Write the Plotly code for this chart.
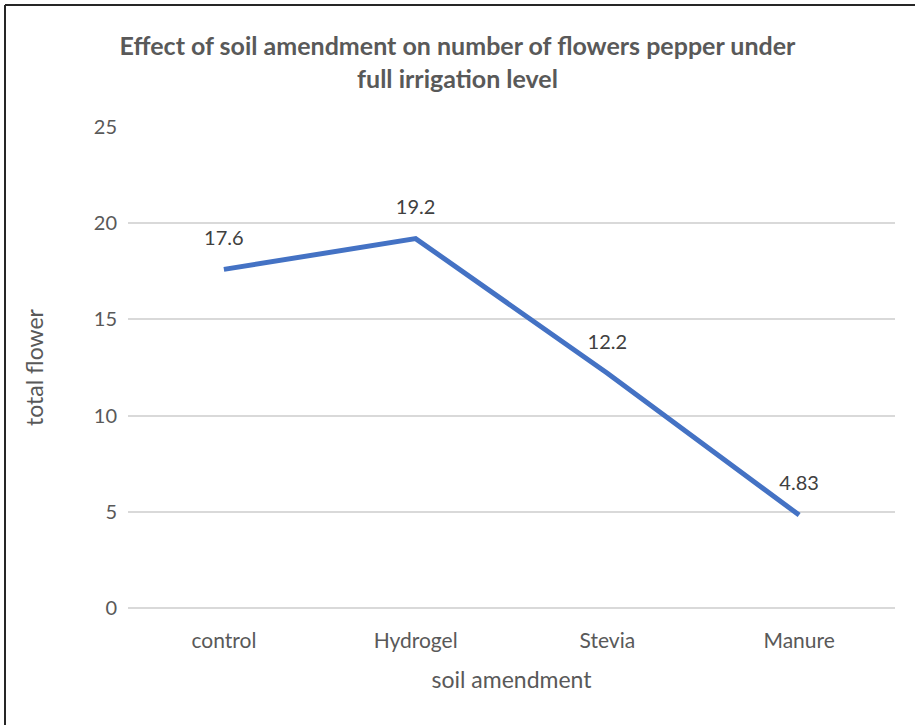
import plotly.graph_objects as go

categories = ["control", "Hydrogel", "Stevia", "Manure"]
total_flower = [17.6, 19.2, 12.2, 4.83]
labels = ["17.6", "19.2", "12.2", "4.83"]

FONT = "Lato, Open Sans, sans-serif"
W, H = 915, 725
L, R, T, B = 128, 20, 127, 117
pw, ph = W - L - R, H - T - B

fig = go.Figure()
fig.add_trace(go.Scatter(
    x=categories, y=total_flower, mode="lines+markers+text",
    text=labels, textposition="top center",
    textfont=dict(family=FONT, size=20, color="#404040"),
    marker=dict(size=30, color="rgba(0,0,0,0)", line=dict(width=0)),
    line=dict(color="#4472C4", width=5),
    cliponaxis=False, showlegend=False, hoverinfo="skip",
))

bx = (5 - L) / pw          # left border, paper units
by = (ph + T - 5) / ph     # top border, paper units

fig.update_layout(
    width=W, height=H,
    margin=dict(l=L, r=R, t=T, b=B),
    paper_bgcolor="white", plot_bgcolor="white",
    font=dict(family=FONT, color="#595959"),
    title=dict(
        text="<b>Effect of soil amendment on number of flowers pepper under<br>full irrigation level</b>",
        x=0.5, xanchor="center", y=1 - 55 / H, yanchor="top",
        font=dict(size=25, color="#595959"),
    ),
    xaxis=dict(
        title=dict(text="soil amendment", font=dict(size=23, color="#595959"), standoff=20),
        tickfont=dict(size=21, color="#595959"),
        showgrid=False, showline=False, zeroline=False, ticks="",
        ticklabelstandoff=18,
        range=[-0.5, 3.5],
    ),
    yaxis=dict(
        title=dict(text="total flower", font=dict(size=23, color="#595959"), standoff=43),
        tickfont=dict(size=20, color="#595959"),
        range=[0, 25], dtick=5, tick0=0,
        showgrid=True, gridcolor="#D9D9D9", gridwidth=1.5,
        zeroline=True, zerolinecolor="#D9D9D9", zerolinewidth=1.5,
        showline=False, ticks="", ticklabelstandoff=10,
    ),
    shapes=[
        dict(type="line", xref="paper", yref="paper", x0=bx, x1=bx, y0=-0.5, y1=by,
             line=dict(color="#262626", width=2)),
        dict(type="line", xref="paper", yref="paper", x0=bx, x1=1.2, y0=by, y1=by,
             line=dict(color="#262626", width=2)),
    ],
)

fig.write_html("out.html", config={"displayModeBar": False},
               post_script="document.body.style.margin='0';")
